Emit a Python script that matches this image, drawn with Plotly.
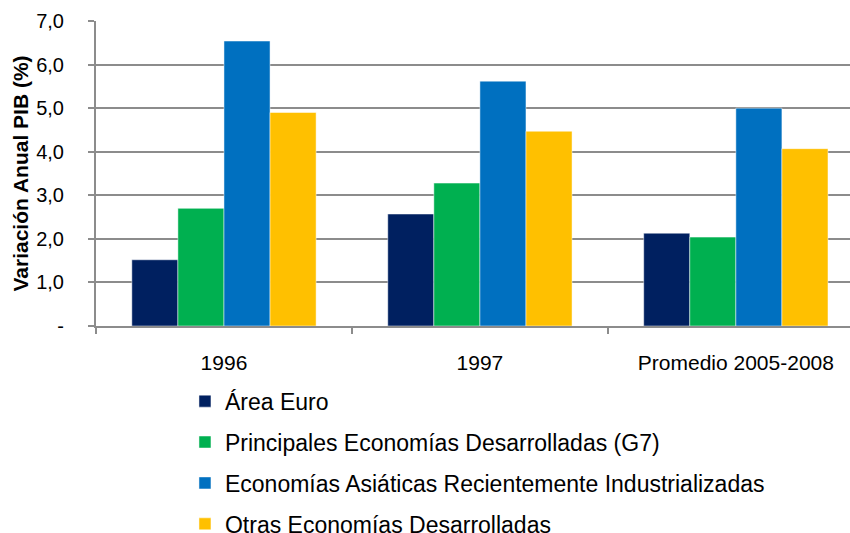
import plotly.graph_objs as go

categorias = ['1996', '1997', 'Promedio 2005-2008']
area_euro = [1.52, 2.57, 2.13]
g7 = [2.70, 3.28, 2.04]
asia_nic = [6.54, 5.62, 5.00]
otras = [4.90, 4.47, 4.07]

series = [
    ('Área Euro', area_euro, '#002060'),
    ('Principales Economías Desarrolladas (G7)', g7, '#00B050'),
    ('Economías Asiáticas Recientemente Industrializadas', asia_nic, '#0070C0'),
    ('Otras Economías Desarrolladas', otras, '#FFC000'),
]

data = []
for i, (nombre, valores, color) in enumerate(series):
    data.append(go.Bar(
        x=categorias,
        y=valores,
        name=nombre,
        legendgroup=str(i),
        marker=dict(color=color, line=dict(color='rgba(255,255,255,0.6)', width=0.8))
    ))

layout = go.Layout(
    width=850, height=533,
    barmode='group', bargap=0.28, bargroupgap=0,
    plot_bgcolor='white', paper_bgcolor='white',
    font=dict(family='Liberation Sans, Arial', size=20, color='black'),
    margin=dict(l=96, r=0, t=21, b=207, autoexpand=False),
    xaxis=dict(
        range=[-0.5, 2.446],
        automargin=False,
        showgrid=False,
        showline=True, linecolor='#8c8c8c', linewidth=2,
        ticks='outside', tickson='boundaries', ticklen=6, tickcolor='#8c8c8c', tickwidth=2,
        tickfont=dict(size=21),
        ticklabelstandoff=17,
    ),
    yaxis=dict(
        range=[0, 7],
        automargin=False,
        tickvals=[0, 1, 2, 3, 4, 5, 6, 7],
        ticktext=['-', '1,0', '2,0', '3,0', '4,0', '5,0', '6,0', '7,0'],
        showgrid=True, gridcolor='#8c8c8c', gridwidth=2,
        showline=True, linecolor='#8c8c8c', linewidth=2,
        ticks='outside', ticklen=6, tickcolor='#8c8c8c', tickwidth=2,
        tickfont=dict(size=20),
        ticklabelstandoff=20,
        zeroline=False,
        title=dict(text='<b>Variación Anual PIB (%)</b>', font=dict(size=21), standoff=2),
    ),
    legend=dict(
        orientation='v',
        x=0.118, xanchor='left',
        y=-0.176, yanchor='top',
        font=dict(size=23),
        tracegroupgap=8,
        itemwidth=30,
        bgcolor='rgba(0,0,0,0)',
    ),
)

fig = go.Figure(data=data, layout=layout)
# quitar el margen por defecto del <body> para que la figura empiece en (0,0)
fig.write_html("out.html", config={'displayModeBar': False},
               post_script="document.body.style.margin='0';document.body.style.overflow='hidden';")
